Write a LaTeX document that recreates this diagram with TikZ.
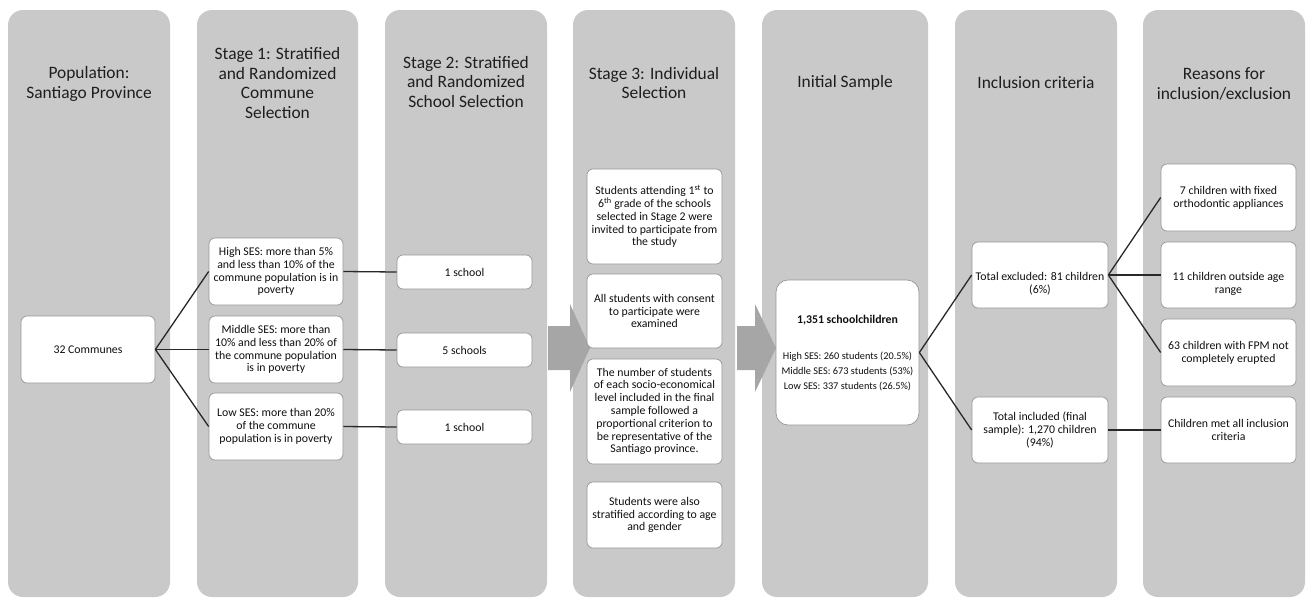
\documentclass[tikz,border=0pt]{standalone}
\usepackage{fontspec}
\setmainfont{Carlito}
\definecolor{colgray}{RGB}{201,201,201}
\definecolor{arrowgray}{RGB}{166,166,166}
\definecolor{boxline}{RGB}{150,150,150}
\definecolor{linecol}{RGB}{40,40,40}
\definecolor{hdrtxt}{RGB}{30,30,30}
\definecolor{boxtxt}{RGB}{15,15,15}
\begin{document}
\begin{tikzpicture}[x=1pt,y=-1pt,
  col/.style={fill=colgray, draw=none, rounded corners=15pt},
  hdr/.style={font=\fontsize{17.4}{19.5}\selectfont, text=hdrtxt, align=center, inner sep=0pt},
  box/.style={draw=boxline, line width=0.7pt, fill=white, rounded corners=6pt, align=center,
    inner sep=0pt, font=\fontsize{11.8}{12.8}\selectfont, text=boxtxt},
  txt/.style={align=center, inner sep=0pt, text=boxtxt, font=\fontsize{11.8}{12.8}\selectfont},
  link/.style={draw=linecol, line width=1.3pt},
  garrow/.style={fill=arrowgray, draw=none}]
\useasboundingbox (0,0) rectangle (1306,598);
% columns
\fill[col] (8,10) rectangle (170,597);
\fill[col] (197,10) rectangle (358,597);
\fill[col] (385,10) rectangle (547,597);
\fill[col] (573,10) rectangle (735,597);
\fill[col] (762,10) rectangle (928,597);
\fill[col] (955,10) rectangle (1117,597);
\fill[col] (1143,10) rectangle (1305,597);
% headers
\node[hdr] (h1) at (89,84) {Population:\\Santiago Province};
\node[hdr] (h2) at (277.5,83) {Stage 1: Stratified\\and Randomized\\Commune\\Selection};
\node[hdr] (h3) at (466,82) {Stage 2: Stratified\\and Randomized\\School Selection};
\node[hdr] (h4) at (654,83) {Stage 3: Individual\\Selection};
\node[hdr] (h5) at (845,83) {Initial Sample};
\node[hdr] (h6) at (1036,83) {Inclusion criteria};
\node[hdr] (h7) at (1224,84) {Reasons for\\inclusion/exclusion};
% gray arrows
\fill[garrow] (548,326) -- (570,326) -- (570,304) -- (590,348) -- (570,392) -- (570,370) -- (548,370) -- cycle;
\fill[garrow] (737,326) -- (755,326) -- (755,304) -- (776,348) -- (755,392) -- (755,370) -- (737,370) -- cycle;
% column 1
\node[box, minimum width=134pt, minimum height=67pt] (n32) at (88,349.5) {32 Communes};
% column 2
\node[box, minimum width=134pt, minimum height=67pt] (hs) at (276,271.5) {High SES: more than 5\%\\and less than 10\% of the\\commune population is in\\poverty};
\node[box, minimum width=134pt, minimum height=67pt] (ms) at (276,349.5) {Middle SES: more than\\10\% and less than 20\% of\\the commune population\\is in poverty};
\node[box, minimum width=134pt, minimum height=67pt] (ls) at (276,426.5) {Low SES: more than 20\%\\of the commune\\population is in poverty};
% column 3
\node[box, minimum width=135pt, minimum height=34pt] (s1) at (464.5,272) {1 school};
\node[box, minimum width=135pt, minimum height=34pt] (s5) at (464.5,350) {5 schools};
\node[box, minimum width=135pt, minimum height=34pt] (s1b) at (464.5,427) {1 school};
% column 4
\node[box, minimum width=135pt, minimum height=95pt] (i1) at (654.5,216.5) {Students attending 1\textsuperscript{st} to\\6\textsuperscript{th} grade of the schools\\selected in Stage 2 were\\invited to participate from\\the study};
\node[box, minimum width=135pt, minimum height=74pt] (i2) at (654.5,311) {All students with consent\\to participate were\\examined};
\node[box, minimum width=135pt, minimum height=105pt] (i3) at (654.5,411.5) {The number of students\\of each socio-economical\\level included in the final\\sample followed a\\proportional criterion to\\be representative of the\\Santiago province.};
\node[box, minimum width=135pt, minimum height=66pt] (i4) at (654.5,515) {Students were also\\stratified according to age\\and gender};
% column 5
\node[box, minimum width=143pt, minimum height=145pt, rounded corners=12pt] (init) at (847.5,352.5) {};
\node[txt, font=\fontsize{11.8}{12.8}\selectfont\bfseries] (initt) at (847.5,320) {1,351 schoolchildren};
\node[txt, font=\fontsize{10.3}{15}\selectfont] (inits) at (847.5,371) {High SES: 260 students (20.5\%)\\Middle SES: 673 students (53\%)\\Low SES: 337 students (26.5\%)};
% column 6
\node[box, minimum width=136pt, minimum height=66pt] (exc) at (1040,275) {};
\node[txt] (exct) at (1040,284) {Total excluded: 81 children\\(6\%)};
\node[box, minimum width=136pt, minimum height=66pt] (inc) at (1040,430) {Total included (final\\sample): 1,270 children\\(94\%)};
% column 7
\node[box, minimum width=135pt, minimum height=67pt] (r1) at (1228.5,197.5) {7 children with fixed\\orthodontic appliances};
\node[box, minimum width=135pt, minimum height=66pt] (r2) at (1228.5,275) {};
\node[txt] (r2t) at (1228.5,284) {11 children outside age\\range};
\node[box, minimum width=135pt, minimum height=67pt] (r3) at (1228.5,352.5) {63 children with FPM not\\completely erupted};
\node[box, minimum width=135pt, minimum height=66pt] (r4) at (1228.5,430) {Children met all inclusion\\criteria};
% connectors
\draw[link] (n32.east) -- (hs.west);
\draw[link] (n32.east) -- (ms.west);
\draw[link] (n32.east) -- (ls.west);
\draw[link] (hs.east) -- (s1.west);
\draw[link] (ms.east) -- (s5.west);
\draw[link] (ls.east) -- (s1b.west);
\draw[link] (init.east) -- (exc.west);
\draw[link] (init.east) -- (inc.west);
\draw[link] (exc.east) -- (r1.west);
\draw[link] (exc.east) -- (r2.west);
\draw[link] (exc.east) -- (r3.west);
\draw[link] (inc.east) -- (r4.west);
\end{tikzpicture}
\end{document}
